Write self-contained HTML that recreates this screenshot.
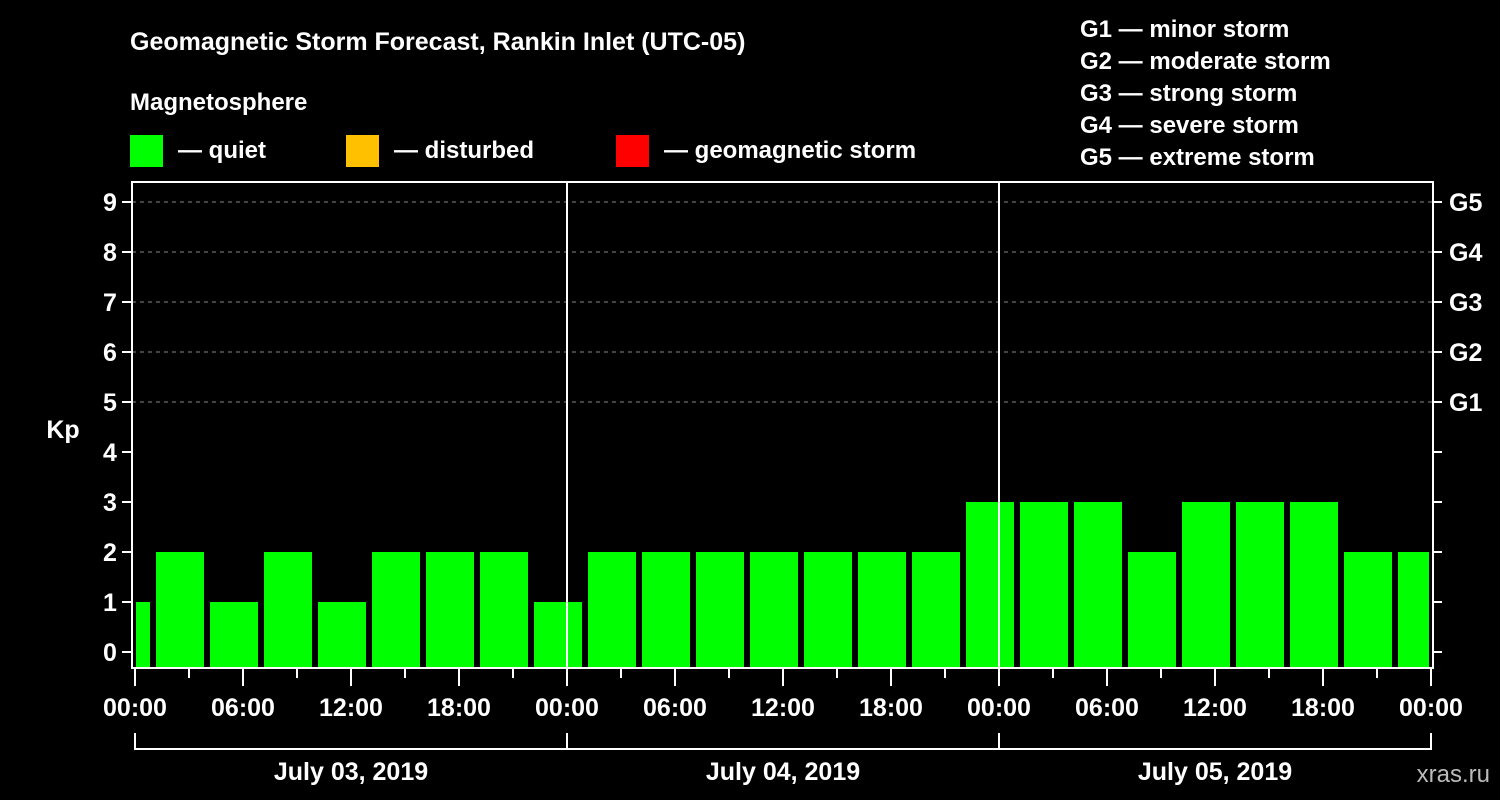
<!DOCTYPE html>
<html><head><meta charset="utf-8"><style>
html,body{margin:0;padding:0;background:#000;width:1500px;height:800px;overflow:hidden}
svg text{font-family:"Liberation Sans",Arial,sans-serif;font-weight:bold;fill:#fff}
</style></head><body>
<svg id="c" width="1500" height="800" xmlns="http://www.w3.org/2000/svg">
<text x="130" y="50" font-size="25">Geomagnetic Storm Forecast, Rankin Inlet (UTC-05)</text>
<text x="130" y="110" font-size="24">Magnetosphere</text>
<g><rect x="130" y="135" width="33" height="32" fill="#00ff00"/><text x="178" y="158" font-size="24">— quiet</text></g>
<g><rect x="346" y="135" width="33" height="32" fill="#ffc000"/><text x="394" y="158" font-size="24">— disturbed</text></g>
<g><rect x="616" y="135" width="33" height="32" fill="#ff0000"/><text x="664" y="158" font-size="24">— geomagnetic storm</text></g>
<g font-size="24">
<text x="1080" y="37">G1 — minor storm</text>
<text x="1080" y="69">G2 — moderate storm</text>
<text x="1080" y="101">G3 — strong storm</text>
<text x="1080" y="133">G4 — severe storm</text>
<text x="1080" y="165">G5 — extreme storm</text>
</g>
<text x="63" y="438" font-size="25" text-anchor="middle">Kp</text>
<text x="1490" y="782" font-size="24" text-anchor="end" fill="#bbb" style="fill:#bbbbbb;font-weight:normal">xras.ru</text>
<g id="plot"></g>
</svg>
<script>
const kpValues=[1,2,1,2,1,2,2,2,1,2,2,2,2,2,2,2,3,3,3,2,3,3,3,2,2];
const yTicks=[0,1,2,3,4,5,6,7,8,9];
const gLabels=["G1","G2","G3","G4","G5"];
const gLevels=[5,6,7,8,9];
const xTickLabels=["00:00","06:00","12:00","18:00","00:00","06:00","12:00","18:00","00:00","06:00","12:00","18:00","00:00"];
const dayLabels=["July 03, 2019","July 04, 2019","July 05, 2019"];
const firstBinHour=-2; // local hour of first 3h bin start (UTC-05)

const X0=135,PXH=18,L=132,R=1433,T=182,B=668;
const xs=h=>X0+h*PXH;
const ys=v=>652-50*v;
const NS="http://www.w3.org/2000/svg";
const g=document.getElementById('plot');
function mk(tag,attrs,parent){const e=document.createElementNS(NS,tag);for(const k in attrs)e.setAttribute(k,attrs[k]);(parent||g).appendChild(e);return e;}

// grid
gLevels.forEach(v=>{const e=mk('line',{x1:L,x2:R,y1:ys(v),y2:ys(v),stroke:'#888','stroke-dasharray':'4,4','stroke-width':1});

});
// bars
kpValues.forEach((v,i)=>{const h0=firstBinHour+3*i;let x1=xs(h0)+3,x2=xs(h0)+51;x1=Math.max(x1,L+4);x2=Math.min(x2,R-4);
const c=v>=5?'#ff0000':(v>=4?'#ffc000':'#00ff00');
const e=mk('rect',{x:x1,y:ys(v),width:x2-x1,height:B-ys(v),fill:c});

});
// day separators
[1,2].forEach(d=>{const e=mk('line',{x1:xs(24*d),x2:xs(24*d),y1:T,y2:B,stroke:'#fff','stroke-width':2});

});
// frame
const fr=mk('rect',{x:L,y:T,width:R-L,height:B-T,fill:'none',stroke:'#fff','stroke-width':2});


// y ticks
yTicks.forEach(v=>{mk('line',{x1:122,x2:L,y1:ys(v),y2:ys(v),stroke:'#fff','stroke-width':2});
mk('line',{x1:R,x2:1442,y1:ys(v),y2:ys(v),stroke:'#fff','stroke-width':2});
const t=mk('text',{x:110,y:ys(v)+9,'font-size':25,'text-anchor':'middle'});t.textContent=v;

});
gLevels.forEach((v,i)=>{const t=mk('text',{x:1449,y:ys(v)+9,'font-size':25});t.textContent=gLabels[i];

});
// x ticks
for(let h=0;h<=72;h+=3){const major=h%6===0;mk('line',{x1:xs(h),x2:xs(h),y1:B,y2:major?686:678,stroke:'#fff','stroke-width':2});}
xTickLabels.forEach((s,i)=>{const t=mk('text',{x:xs(6*i),y:716,'font-size':25,'text-anchor':'middle'});t.textContent=s;

});
// day brackets
dayLabels.forEach((s,d)=>{const a=xs(24*d),b=xs(24*(d+1));
mk('path',{d:`M${a},733 V749 H${b} V733`,stroke:'#fff','stroke-width':2,fill:'none'});
const t=mk('text',{x:(a+b)/2,y:780,'font-size':25,'text-anchor':'middle'});t.textContent=s;

});
</script>
</body></html>
